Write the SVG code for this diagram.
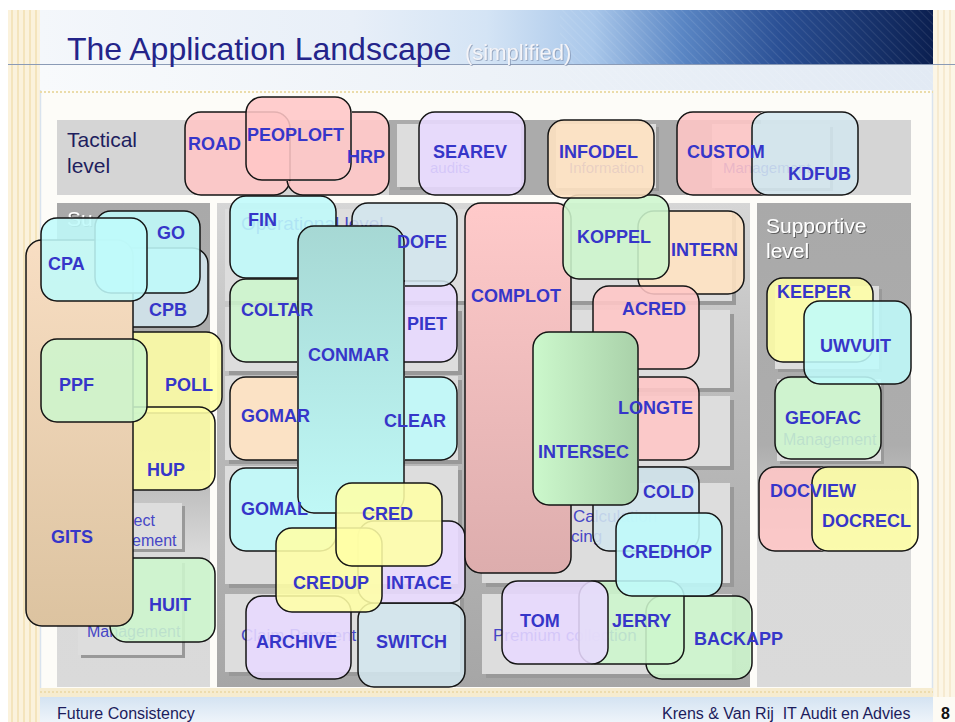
<svg xmlns="http://www.w3.org/2000/svg" width="955" height="722" viewBox="0 0 955 722">
<defs>
<style>
.n{stroke:#141414;stroke-width:1.5}
.s{fill-opacity:0.88}
.pk{fill:#ffc6c6}.pu{fill:#e8d9ff}.or{fill:#ffe3c2}.lb{fill:#d3e6ee}.cy{fill:#bffafa}.gr{fill:#cdf6cd}.ye{fill:#ffffa6}
.lbl{font-family:"Liberation Sans",Arial,sans-serif;font-weight:bold;font-size:18px;fill:#3636c9}
.bgt{font-family:"Liberation Sans",Arial,sans-serif;fill:#4646c6}
.sub{fill:#dddddd}
.shd{fill:#999999}
.hdr{font-family:"Liberation Sans",Arial,sans-serif;font-size:21px;fill:#ffffff}
</style>
<linearGradient id="gBanner" x1="0" y1="0" x2="1" y2="0">
<stop offset="0" stop-color="#f4f7fb"/><stop offset="0.35" stop-color="#e8eff8"/><stop offset="0.5" stop-color="#d4e4f5"/><stop offset="0.62" stop-color="#a9c7ea"/><stop offset="0.72" stop-color="#5a86c4"/><stop offset="0.83" stop-color="#2a4f94"/><stop offset="1" stop-color="#0b1f50"/>
</linearGradient>
<linearGradient id="gBand" x1="0" y1="0" x2="1" y2="0">
<stop offset="0" stop-color="#f8fafc"/><stop offset="1" stop-color="#e2eaf4"/>
</linearGradient>
<linearGradient id="gFoot" x1="0" y1="0" x2="0" y2="1">
<stop offset="0" stop-color="#d4e3f2"/><stop offset="1" stop-color="#eef4fa"/>
</linearGradient>
<linearGradient id="gSide" x1="0" y1="0" x2="0" y2="1">
<stop offset="0" stop-color="#a9a9a9"/><stop offset="0.5" stop-color="#adadad"/><stop offset="0.72" stop-color="#d9d9d9"/><stop offset="1" stop-color="#dadada"/>
</linearGradient>
<linearGradient id="gMid" x1="0" y1="0" x2="0" y2="1">
<stop offset="0" stop-color="#d6d6d6"/><stop offset="0.4" stop-color="#bcbcbc"/><stop offset="1" stop-color="#a6a6a6"/>
</linearGradient>
<linearGradient id="gGits" x1="0" y1="0" x2="0" y2="1">
<stop offset="0" stop-color="#f8dec3"/><stop offset="1" stop-color="#dcc3a0"/>
</linearGradient>
<linearGradient id="gConmar" x1="0" y1="0" x2="0" y2="1">
<stop offset="0" stop-color="#a6d8d4"/><stop offset="1" stop-color="#bff8f6"/>
</linearGradient>
<linearGradient id="gComplot" x1="0" y1="0" x2="0" y2="1">
<stop offset="0" stop-color="#ffcaca"/><stop offset="1" stop-color="#ddadad"/>
</linearGradient>
<linearGradient id="gInters" x1="0" y1="0" x2="1" y2="0">
<stop offset="0" stop-color="#ccf8cc"/><stop offset="1" stop-color="#a9d1a9"/>
</linearGradient>
<pattern id="hatch" width="6" height="6" patternUnits="userSpaceOnUse" patternTransform="rotate(-45)">
<line x1="0" y1="0" x2="0" y2="6" stroke="#ffffff" stroke-opacity="0.18" stroke-width="1"/>
</pattern>
<filter id="shw" x="-10%" y="-10%" width="130%" height="140%">
<feDropShadow dx="1" dy="1" stdDeviation="0.6" flood-color="#555555" flood-opacity="0.9"/>
</filter>
<filter id="shl" x="-10%" y="-10%" width="130%" height="140%">
<feDropShadow dx="0.8" dy="0.8" stdDeviation="0.5" flood-color="#7a8aa8" flood-opacity="0.8"/>
</filter>
<clipPath id="cpPEOP"><path clip-rule="evenodd" d="M0 0H955V722H0Z M262 96H335A17 17 0 0 1 352 113V164A17 17 0 0 1 335 181H262A17 17 0 0 1 245 164V113A17 17 0 0 1 262 96Z"/></clipPath>
<clipPath id="cpKDF"><path clip-rule="evenodd" d="M0 0H955V722H0Z M768 111H842A17 17 0 0 1 859 128V179A17 17 0 0 1 842 196H768A17 17 0 0 1 751 179V128A17 17 0 0 1 768 111Z"/></clipPath>
<clipPath id="cpCON"><path clip-rule="evenodd" d="M0 0H955V722H0Z M314 225H388A17 17 0 0 1 405 242V497A17 17 0 0 1 388 514H314A17 17 0 0 1 297 497V242A17 17 0 0 1 314 225Z"/></clipPath>
<clipPath id="cpINT"><path clip-rule="evenodd" d="M0 0H955V722H0Z M549 331H622A17 17 0 0 1 639 348V489A17 17 0 0 1 622 506H549A17 17 0 0 1 532 489V348A17 17 0 0 1 549 331Z"/></clipPath>
<clipPath id="cpDOC"><path clip-rule="evenodd" d="M0 0H955V722H0Z M828 466H902A17 17 0 0 1 919 483V535A17 17 0 0 1 902 552H828A17 17 0 0 1 811 535V483A17 17 0 0 1 828 466Z"/></clipPath>
</defs>

<!-- page background -->
<g id="page">
<rect x="0" y="0" width="955" height="722" fill="#ffffff"/>
<rect x="8" y="10" width="32" height="712" fill="#fbf2dc"/>
<g stroke="#f4e4bc" stroke-width="2">
<line x1="12" y1="10" x2="12" y2="722"/><line x1="18" y1="10" x2="18" y2="722"/><line x1="24" y1="10" x2="24" y2="722"/><line x1="30" y1="10" x2="30" y2="722"/><line x1="36" y1="10" x2="36" y2="722"/>
</g>
<rect x="933" y="10" width="22" height="687" fill="#fcf6e6"/>
<g stroke="#f6ead0" stroke-width="2">
<line x1="938" y1="10" x2="938" y2="697"/><line x1="944" y1="10" x2="944" y2="697"/><line x1="950" y1="10" x2="950" y2="697"/>
</g>
<rect x="40" y="90" width="893" height="606" fill="#fdfcf8"/>
<line x1="40.5" y1="90" x2="40.5" y2="696" stroke="#d9e3ee" stroke-width="1.5"/>
<line x1="932.5" y1="90" x2="932.5" y2="696" stroke="#d9e3ee" stroke-width="1.5"/>
<rect x="40" y="10" width="893" height="54" fill="url(#gBanner)"/>
<rect x="40" y="64" width="893" height="26" fill="url(#gBand)"/>
<rect x="560" y="10" width="373" height="80" fill="url(#hatch)"/>
<line x1="8" y1="64.5" x2="955" y2="64.5" stroke="#8b9bb6" stroke-width="1.2"/>
<line x1="40" y1="92" x2="933" y2="92" stroke="#ebdcaa" stroke-width="2" stroke-dasharray="2 2"/>
<rect x="40" y="688" width="893" height="9" fill="#f6ecd0"/>
<line x1="40" y1="692" x2="933" y2="692" stroke="#eddcae" stroke-width="2" stroke-dasharray="2 2"/>
<rect x="40" y="697" width="893" height="25" fill="url(#gFoot)"/>
<rect x="933" y="697" width="22" height="25" fill="#fdfbf4"/>
<text x="67" y="60" font-family="Liberation Sans, Arial, sans-serif" font-size="32" fill="#24248a">The Application Landscape</text>
<text x="465" y="60" font-family="Liberation Sans, Arial, sans-serif" font-size="22" fill="#f4f4f8" filter="url(#shl)">(simplified)</text>
<text x="57" y="719" font-family="Liberation Sans, Arial, sans-serif" font-size="16" fill="#1c1c5c">Future Consistency</text>
<text x="662" y="719" font-family="Liberation Sans, Arial, sans-serif" font-size="16" fill="#1c1c5c" xml:space="preserve">Krens &amp; Van Rij  IT Audit en Advies</text>
<text x="941" y="719" font-family="Liberation Sans, Arial, sans-serif" font-size="16" font-weight="bold" fill="#111111">8</text>
</g>

<!-- level panels -->
<g id="panels">
<rect x="57" y="120" width="854" height="75" fill="#d5d5d5"/>
<rect x="389" y="120" width="372" height="75" fill="#ababab"/>
<text x="67" y="147" font-family="Liberation Sans, Arial, sans-serif" font-size="21" fill="#1e1e5e">Tactical</text>
<text x="67" y="173" font-family="Liberation Sans, Arial, sans-serif" font-size="21" fill="#1e1e5e">level</text>
<rect x="400" y="127" width="124" height="63" class="shd"/>
<rect x="397" y="124" width="124" height="63" class="sub"/>
<rect x="559" y="127" width="100" height="64" class="shd"/>
<rect x="556" y="124" width="100" height="64" class="sub"/>
<rect x="715" y="127" width="118" height="64" class="shd"/>
<rect x="712" y="124" width="118" height="64" class="sub"/>

<rect x="57" y="203" width="153" height="484" fill="url(#gSide)"/>
<text x="67" y="226" class="hdr" filter="url(#shw)">Su</text>
<rect x="81" y="506" width="104" height="46" class="shd"/>
<rect x="78" y="503" width="104" height="46" class="sub"/>
<rect x="81" y="563" width="104" height="95" class="shd"/>
<rect x="78" y="560" width="104" height="95" class="sub"/>

<rect x="217" y="203" width="533" height="484" fill="url(#gMid)"/>
<rect x="229" y="213" width="507" height="92" class="shd"/>
<rect x="225" y="209" width="507" height="92" class="sub"/>
<rect x="229" y="311" width="233" height="64" class="shd"/>
<rect x="225" y="307" width="233" height="64" class="sub"/>
<rect x="484" y="314" width="250" height="78" class="shd"/>
<rect x="480" y="310" width="250" height="78" class="sub"/>
<rect x="229" y="380" width="233" height="84" class="shd"/>
<rect x="225" y="376" width="233" height="84" class="sub"/>
<rect x="484" y="400" width="250" height="70" class="shd"/>
<rect x="480" y="396" width="250" height="70" class="sub"/>
<rect x="229" y="470" width="233" height="118" class="shd"/>
<rect x="225" y="466" width="233" height="118" class="sub"/>
<rect x="486" y="487" width="248" height="100" class="shd"/>
<rect x="482" y="483" width="248" height="100" class="sub"/>
<rect x="229" y="598" width="235" height="78" class="shd"/>
<rect x="225" y="594" width="235" height="78" class="sub"/>
<rect x="486" y="598" width="250" height="80" class="shd"/>
<rect x="482" y="594" width="250" height="80" class="sub"/>

<rect x="757" y="203" width="154" height="484" fill="url(#gSide)"/>
<text x="766" y="233" class="hdr" filter="url(#shw)">Supportive</text>
<text x="766" y="258" class="hdr" filter="url(#shw)">level</text>
<rect x="778" y="289" width="104" height="83" class="shd"/>
<rect x="775" y="286" width="104" height="83" class="sub"/>
<rect x="780" y="382" width="104" height="82" class="shd"/>
<rect x="777" y="379" width="104" height="82" class="sub"/>

<text x="241" y="230" class="bgt" font-size="19">Operational level</text>
<text x="430" y="173" class="bgt" font-size="15">audits</text>
<text x="569" y="173" class="bgt" font-size="15">Information</text>
<text x="723" y="173" class="bgt" font-size="15">Management</text>
<text x="130" y="526" class="bgt" font-size="16">ject</text>
<text x="132" y="546" class="bgt" font-size="16">ement</text>
<text x="87" y="637" class="bgt" font-size="16">Management</text>
<text x="573" y="522" class="bgt" font-size="17">Calculation</text>
<text x="571" y="542" class="bgt" font-size="17">cing</text>
<text x="493" y="641" class="bgt" font-size="17">Premium collection</text>
<text x="241" y="641" class="bgt" font-size="17">Claim Payment</text>
<text x="783" y="445" class="bgt" font-size="16">Management</text>
</g>

<!-- applications -->
<g id="nodes">
<g id="ROAD"><rect class="n pk s" x="185" y="112" width="105" height="83" rx="16"/><text class="lbl" x="188" y="150">ROAD</text></g>
<g id="PEOPLOFT"><rect class="n pk s" x="246" y="97" width="105" height="83" rx="16"/><text class="lbl" x="247" y="141">PEOPLOFT</text></g>
<g id="HRP"><rect class="n pk s" x="287" y="112" width="102" height="83" rx="16" clip-path="url(#cpPEOP)"/><text class="lbl" x="347" y="163">HRP</text></g>
<g id="SEAREV"><rect class="n pu s" x="419" y="112" width="106" height="83" rx="16"/><text class="lbl" x="433" y="158">SEAREV</text></g>
<g id="KDFUB"><rect class="n lb s" x="752" y="112" width="106" height="83" rx="16"/><text class="lbl" x="788" y="180">KDFUB</text></g>
<g id="CUSTOM"><rect class="n pk s" x="677" y="112" width="105" height="83" rx="16" clip-path="url(#cpKDF)"/><text class="lbl" x="687" y="158">CUSTOM</text></g>

<g id="CPB"><rect class="n lb s" x="103" y="248" width="105" height="79" rx="16"/><text class="lbl" x="149" y="316">CPB</text></g>
<g id="POLL"><rect class="n ye s" x="117" y="332" width="105" height="81" rx="16"/><text class="lbl" x="165" y="391">POLL</text></g>
<g id="HUP"><rect class="n ye s" x="110" y="407" width="105" height="83" rx="16"/><text class="lbl" x="147" y="476">HUP</text></g>
<g id="HUIT"><rect class="n gr s" x="110" y="558" width="105" height="84" rx="16"/><text class="lbl" x="149" y="611">HUIT</text></g>
<g id="GITS"><rect class="n" fill="url(#gGits)" x="26" y="240" width="107" height="386" rx="16"/><text class="lbl" x="51" y="543">GITS</text></g>
<g id="GO"><rect class="n cy s" x="95" y="211" width="105" height="82" rx="16"/><text class="lbl" x="157" y="239">GO</text></g>
<g id="CPA"><rect class="n cy s" x="41" y="218" width="106" height="83" rx="16"/><text class="lbl" x="48" y="270">CPA</text></g>
<g id="PPF"><rect class="n gr s" x="41" y="339" width="106" height="83" rx="16"/><text class="lbl" x="59" y="391">PPF</text></g>

<g id="FIN"><rect class="n cy s" x="230" y="196" width="106" height="82" rx="16"/><text class="lbl" x="248" y="226">FIN</text></g>
<g id="PIET"><rect class="n pu s" x="352" y="281" width="105" height="81" rx="16"/><text class="lbl" x="407" y="330">PIET</text></g>
<g id="CONMAR"><rect class="n" fill="url(#gConmar)" x="298" y="226" width="106" height="287" rx="16"/><text class="lbl" x="308" y="361">CONMAR</text></g>
<g id="DOFE"><rect class="n lb s" x="352" y="203" width="105" height="83" rx="16" clip-path="url(#cpCON)"/><text class="lbl" x="397" y="248">DOFE</text></g>
<g id="COLTAR"><rect class="n gr s" x="230" y="279" width="106" height="83" rx="16" clip-path="url(#cpCON)"/><text class="lbl" x="241" y="316">COLTAR</text></g>
<g id="GOMAR"><rect class="n or s" x="230" y="377" width="106" height="83" rx="16" clip-path="url(#cpCON)"/><text class="lbl" x="241" y="422">GOMAR</text></g>
<g id="CLEAR"><rect class="n cy s" x="352" y="377" width="105" height="83" rx="16" clip-path="url(#cpCON)"/><text class="lbl" x="384" y="427">CLEAR</text></g>
<g id="GOMAL"><rect class="n cy s" x="230" y="468" width="106" height="83" rx="16" clip-path="url(#cpCON)"/><text class="lbl" x="241" y="515">GOMAL</text></g>
<g id="ARCHIVE"><rect class="n pu s" x="246" y="596" width="105" height="83" rx="16"/><text class="lbl" x="256" y="648">ARCHIVE</text></g>
<g id="SWITCH"><rect class="n lb s" x="358" y="603" width="107" height="84" rx="16"/><text class="lbl" x="376" y="648">SWITCH</text></g>
<g id="INTACE"><rect class="n pu s" x="358" y="521" width="107" height="82" rx="16"/><text class="lbl" x="386" y="589">INTACE</text></g>
<g id="CREDUP"><rect class="n ye s" x="276" y="528" width="106" height="84" rx="16"/><text class="lbl" x="293" y="589">CREDUP</text></g>
<g id="CRED"><rect class="n ye s" x="336" y="483" width="106" height="83" rx="16"/><text class="lbl" x="362" y="520">CRED</text></g>

<g id="COMPLOT"><rect class="n" fill="url(#gComplot)" x="465" y="203" width="106" height="370" rx="16"/><text class="lbl" x="471" y="302">COMPLOT</text></g>
<g id="INTERN"><rect class="n or s" x="638" y="211" width="106" height="83" rx="16"/><text class="lbl" x="671" y="256">INTERN</text></g>
<g id="KOPPEL"><rect class="n gr s" x="563" y="195" width="106" height="84" rx="16"/><text class="lbl" x="577" y="243">KOPPEL</text></g>
<g id="INFODEL"><rect class="n or s" x="548" y="120" width="106" height="78" rx="16"/><text class="lbl" x="559" y="158">INFODEL</text></g>
<g id="ACRED"><rect class="n pk s" x="593" y="286" width="106" height="83" rx="16"/><text class="lbl" x="622" y="315">ACRED</text></g>
<g id="COLD"><rect class="n lb s" x="593" y="467" width="106" height="84" rx="16"/><text class="lbl" x="643" y="498">COLD</text></g>
<g id="INTERSEC"><rect class="n" fill="url(#gInters)" x="533" y="332" width="105" height="173" rx="16"/><text class="lbl" x="538" y="458">INTERSEC</text></g>
<g id="LONGTE"><rect class="n pk s" x="593" y="377" width="106" height="83" rx="16" clip-path="url(#cpINT)"/><text class="lbl" x="618" y="414">LONGTE</text></g>
<g id="BACKAPP"><rect class="n gr s" x="646" y="596" width="106" height="83" rx="16"/><text class="lbl" x="694" y="645">BACKAPP</text></g>
<g id="JERRY"><rect class="n gr s" x="579" y="581" width="105" height="83" rx="16"/><text class="lbl" x="612" y="627">JERRY</text></g>
<g id="TOM"><rect class="n pu s" x="502" y="581" width="106" height="83" rx="16"/><text class="lbl" x="520" y="627">TOM</text></g>
<g id="CREDHOP"><rect class="n cy s" x="616" y="513" width="106" height="83" rx="16"/><text class="lbl" x="622" y="558">CREDHOP</text></g>

<g id="KEEPER"><rect class="n ye s" x="767" y="278" width="106" height="84" rx="16"/><text class="lbl" x="777" y="298">KEEPER</text></g>
<g id="GEOFAC"><rect class="n gr s" x="775" y="377" width="106" height="82" rx="16"/><text class="lbl" x="785" y="424">GEOFAC</text></g>
<g id="UWVUIT"><rect class="n cy s" x="804" y="301" width="107" height="83" rx="16"/><text class="lbl" x="820" y="352">UWVUIT</text></g>
<g id="DOCRECL"><rect class="n ye s" x="812" y="467" width="106" height="84" rx="16"/><text class="lbl" x="822" y="527">DOCRECL</text></g>
<g id="DOCVIEW"><rect class="n pk s" x="759" y="467" width="106" height="84" rx="16" clip-path="url(#cpDOC)"/><text class="lbl" x="770" y="497">DOCVIEW</text></g>
</g>

<g id="connectors"></g>
</svg>
